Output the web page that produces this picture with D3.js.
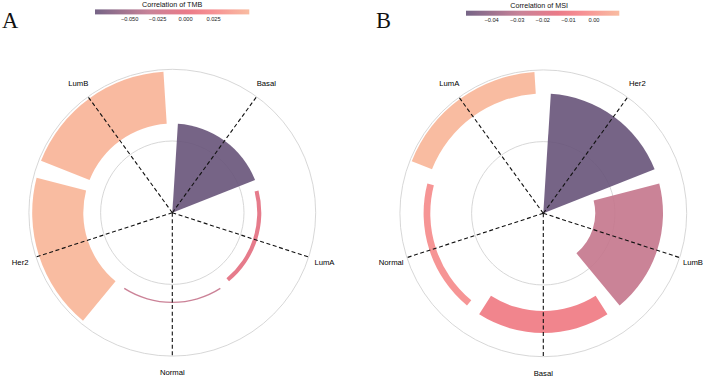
<!DOCTYPE html>
<html><head><meta charset="utf-8">
<script src="https://cdn.jsdelivr.net/npm/d3@7"></script>
<style>body{margin:0;background:#fff} svg{display:block}</style>
</head><body>
<svg id="chart" width="704" height="377"></svg>
<script>
// ---------- Panel A : TMB ----------
const tmbCategories   = ["Basal", "LumA", "Normal", "Her2", "LumB"];
const tmbFillValues   = [-0.081, -0.003, -0.030, 0.057, 0.055];
const tmbBarValues    = [-0.081, -0.0037, 0.0012, 0.0465, 0.0475];
const tmbRadialLimits = [-0.081, 0.0495];
const tmbLegendLimits = [-0.081, 0.057];
const tmbLegendTicks  = [-0.050, -0.025, 0.000, 0.025];
const tmbTickLabels   = ["\u22120.050", "\u22120.025", "0.000", "0.025"];

// ---------- Panel B : MSI ----------
const msiCategories   = ["Her2", "LumB", "Basal", "Normal", "LumA"];
const msiFillValues   = [-0.050, -0.0283, -0.0092, -0.0028, 0.0099];
const msiBarValues    = [-0.050, -0.0283, -0.0092, -0.0028, 0.0091];
const msiRadialLimits = [-0.050, 0.0099];
const msiLegendLimits = [-0.050, 0.0099];
const msiLegendTicks  = [-0.04, -0.03, -0.02, -0.01, 0.00];
const msiTickLabels   = ["\u22120.04", "\u22120.03", "\u22120.02", "\u22120.01", "0.00"];

const paletteStops  = [0, 0.35, 0.6, 0.75, 1];
const paletteColors = ["#675379", "#c2758d", "#e86c7b", "#f58287", "#f8b597"];

const svg = d3.select("#chart");
const W = 704;

function panel(cfg) {
  const g = svg.append("g");
  const R = 143.4;
  const palette = d3.scaleLinear().domain(paletteStops).range(paletteColors)
    .interpolate(d3.interpolateRgb).clamp(true);
  const tScale = d3.scaleLinear().domain(cfg.legendLimits).range([0, 1]);
  const color = v => palette(tScale(v));

  const theta = d3.scaleBand().domain(cfg.categories).range([0, 2 * Math.PI])
    .paddingInner(0.1).paddingOuter(0.05);
  const r = d3.scaleLinear().domain(cfg.radialLimits).range([0, R]).clamp(true);

  const c = g.append("g").attr("transform", `translate(${cfg.cx},${cfg.cy})`);

  // grid circles
  [R / 2, R].forEach(rr => c.append("circle").attr("r", rr)
    .attr("fill", "none").attr("stroke", "#d2d2d2").attr("stroke-width", 0.9));

  // bars
  const arc = d3.arc();
  const rows = cfg.categories.map((k, i) => ({k, fill: cfg.fill[i], v: cfg.bar[i]}));
  c.selectAll("path.bar").data(rows).join("path").attr("class", "bar")
    .attr("d", d => arc({
      innerRadius: r(Math.min(0, d.v)),
      outerRadius: r(Math.max(0, d.v)),
      startAngle: theta(d.k),
      endAngle: theta(d.k) + theta.bandwidth()
    }))
    .attr("fill", d => color(d.fill)).attr("fill-opacity", 0.9);

  // dashed spokes and labels
  const mid = k => theta(k) + theta.bandwidth() / 2;
  c.selectAll("line.spoke").data(cfg.categories).join("line").attr("class", "spoke")
    .attr("x1", 0).attr("y1", 0)
    .attr("x2", k => R * Math.sin(mid(k))).attr("y2", k => -R * Math.cos(mid(k)))
    .attr("stroke", "#111").attr("stroke-width", 1.1).attr("stroke-dasharray", "4,2.6");

  c.selectAll("text.lab").data(cfg.categories).join("text").attr("class", "lab")
    .attr("x", k => 160 * Math.sin(mid(k))).attr("y", k => -160 * Math.cos(mid(k)))
    .attr("text-anchor", "middle").attr("dominant-baseline", "central")
    .attr("font-family", "Liberation Sans, Arial, sans-serif").attr("font-size", 7.7)
    .attr("fill", "#000").text(k => k)
    .each(function () {
      const b = this.getBBox();
      const right = cfg.cx + b.x + b.width;
      if (right > W - 1) d3.select(this).attr("x", +d3.select(this).attr("x") - (right - (W - 1)));
    });

  // panel letter
  g.append("text").attr("x", cfg.letterX).attr("y", 28)
    .attr("font-family", "Liberation Serif, Times New Roman, serif").attr("font-size", 22.5)
    .attr("fill", "#111").text(cfg.letter);

  // legend
  const lx = d3.scaleLinear().domain(cfg.legendLimits).range(cfg.legendRange);
  const gradId = "grad" + cfg.letter;
  const grad = svg.append("defs").append("linearGradient").attr("id", gradId)
    .attr("x1", "0%").attr("x2", "100%");
  d3.range(0, 1.0001, 0.02).forEach(t => grad.append("stop")
    .attr("offset", (t * 100) + "%").attr("stop-color", palette(t)));
  const lg = g.append("g");
  lg.append("rect").attr("x", cfg.legendRange[0]).attr("y", cfg.barY)
    .attr("width", cfg.legendRange[1] - cfg.legendRange[0]).attr("height", 5)
    .attr("fill", `url(#${gradId})`).attr("fill-opacity", 0.9);
  lg.append("text").attr("x", (cfg.legendRange[0] + cfg.legendRange[1]) / 2 + cfg.titleDx)
    .attr("y", cfg.barY - 2.8).attr("text-anchor", "middle")
    .attr("font-family", "Liberation Sans, Arial, sans-serif").attr("font-size", 7.2)
    .attr("fill", "#111").text(cfg.title);
  lg.selectAll("text.tick").data(cfg.legendTicks).join("text").attr("class", "tick")
    .attr("x", d => lx(d)).attr("y", cfg.barY + 11.2).attr("text-anchor", "middle")
    .attr("font-family", "Liberation Sans, Arial, sans-serif").attr("font-size", 5.7)
    .attr("fill", "#222").text((d, i) => cfg.tickLabels[i]);
}

panel({
  letter: "A", letterX: 2, cx: 172.3, cy: 212.7,
  categories: tmbCategories, fill: tmbFillValues, bar: tmbBarValues,
  radialLimits: tmbRadialLimits, legendLimits: tmbLegendLimits,
  legendTicks: tmbLegendTicks, tickLabels: tmbTickLabels,
  legendRange: [95, 249.3], barY: 9.4, title: "Correlation of TMB", titleDx: 0
});
panel({
  letter: "B", letterX: 376, cx: 543.3, cy: 213.3,
  categories: msiCategories, fill: msiFillValues, bar: msiBarValues,
  radialLimits: msiRadialLimits, legendLimits: msiLegendLimits,
  legendTicks: msiLegendTicks, tickLabels: msiTickLabels,
  legendRange: [466, 619.3], barY: 10.7, title: "Correlation of MSI", titleDx: -3.5
});
</script>
</body></html>
